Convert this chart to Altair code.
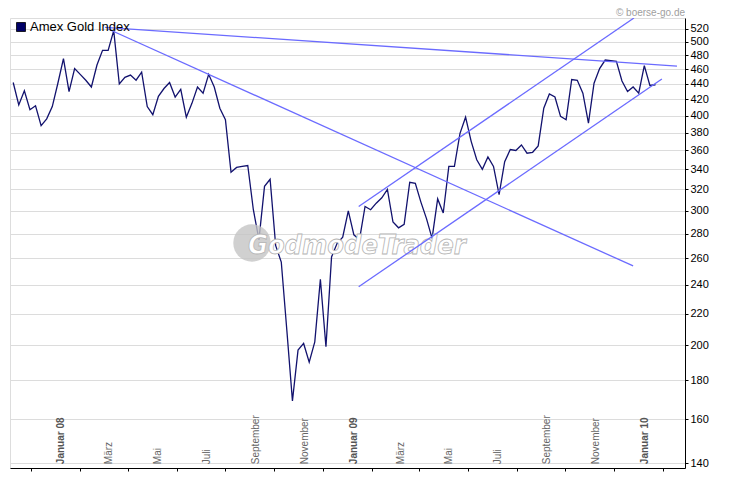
import altair as alt
import pandas as pd

# weekly closes of the Amex Gold Index
start_date = "2007-11-09"
gold = [442, 413, 431, 407, 412, 388, 396, 411, 441, 475,
        430, 461, 453, 445, 436, 466, 487, 487, 517, 440,
        449, 452, 445, 456, 411, 401, 424, 434, 442, 423,
        433, 398, 415, 436, 428, 453, 436, 409, 395, 337,
        342, 343, 344, 301, 275, 323, 330, 270, 257, 209,
        169, 197, 201, 190, 202, 244, 199, 261, 272, 277,
        300, 279, 275, 304, 301, 307, 312, 320, 290, 285,
        288, 327, 326, 308, 293, 276, 311, 298, 343, 343,
        379, 398, 370, 350, 340, 353, 343, 315, 348, 361,
        360, 366, 357, 358, 365, 409, 427, 423, 399, 395,
        446, 445, 428, 391, 441, 461, 473, 472, 471, 444,
        430, 436, 428, 465, 438, 439]

# trend lines: id, start date, start value, end date, end value
trend_ids = ["resist", "down", "chan_top", "chan_bottom"]
trend_start_dates = ["2008-03-03", "2008-03-07", "2009-01-15", "2009-01-15"]
trend_start_vals = [522, 519.5, 304, 238.5]
trend_end_dates = ["2010-02-18", "2009-12-25", "2009-12-26", "2010-01-30"]
trend_end_vals = [464.5, 254, 537, 446.6]

month_dates = ["2008-01-01", "2008-03-01", "2008-05-01", "2008-07-01", "2008-09-01",
               "2008-11-01", "2009-01-01", "2009-03-01", "2009-05-01", "2009-07-01",
               "2009-09-01", "2009-11-01", "2010-01-01"]
month_labels = ["Januar 08", "März", "Mai", "Juli", "September", "November",
                "Januar 09", "März", "Mai", "Juli", "September", "November", "Januar 10"]

y_ticks = list(range(140, 521, 20))

df = pd.DataFrame({"date": pd.date_range(start_date, periods=len(gold), freq="7D"), "value": gold})

trend_rows = []
for i, t in enumerate(trend_ids):
    trend_rows.append({"line": t, "date": pd.Timestamp(trend_start_dates[i]), "value": trend_start_vals[i]})
    trend_rows.append({"line": t, "date": pd.Timestamp(trend_end_dates[i]), "value": trend_end_vals[i]})
trend_df = pd.DataFrame(trend_rows)

labels_df = pd.DataFrame({"date": pd.to_datetime(month_dates), "label": month_labels})
labels_df["jan"] = labels_df["label"].str.startswith("Januar")

month_ticks = [alt.DateTime(year=y, month=m, date=1)
               for y in (2007, 2008, 2009, 2010) for m in range(1, 13)
               if (y, m) >= (2007, 12) and (y, m) <= (2010, 2)]

x_scale = alt.Scale(domain=[alt.DateTime(year=2007, month=11, date=5),
                            alt.DateTime(year=2010, month=2, date=28)])
y_scale = alt.Scale(type="log", domain=[138, 537], nice=False)

x_enc = alt.X("date:T", scale=x_scale, title=None,
              axis=alt.Axis(values=month_ticks, labels=False, grid=False, tickSize=3,
                            tickColor="black", domainColor="black"))
y_enc = alt.Y("value:Q", scale=y_scale, title=None,
              axis=alt.Axis(orient="right", values=y_ticks, grid=True, gridColor="#dcdcdc",
                            tickSize=3, tickColor="black", domainColor="black",
                            labelFontSize=11, labelColor="black", labelPadding=2,
                            labelFont="Liberation Sans"))

# watermark
wm_font = "DejaVu Sans Condensed, Liberation Sans Narrow, sans-serif"
wm_circle = alt.Chart().mark_circle(size=1400, color="#c4c4c4", opacity=0.8).encode(
    x=alt.value(242), y=alt.value(225))
wm_text = alt.Chart().mark_text(
    text="GodmodeTrader", font=wm_font, fontSize=27, fontStyle="italic",
    fontWeight="bold", align="left", baseline="alphabetic", color="white",
    stroke="#b4b4b4", strokeWidth=0.8
).encode(x=alt.value(238), y=alt.value(236))

base_month = alt.Chart(labels_df)
months_normal = base_month.transform_filter("!datum.jan").mark_text(
    angle=270, align="left", baseline="top", fontSize=10, font="Liberation Sans", dy=1, color="#666666"
).encode(x=alt.X("date:T", scale=x_scale), y=alt.datum(139.6), text="label:N")
months_bold = base_month.transform_filter("datum.jan").mark_text(
    angle=270, align="left", baseline="top", fontSize=10, font="Liberation Sans", dy=1,
    fontWeight="bold", color="#555555"
).encode(x=alt.X("date:T", scale=x_scale), y=alt.datum(139.6), text="label:N")

series = alt.Chart(df).mark_line(color="#12126e", strokeWidth=1.3).encode(x=x_enc, y=y_enc)

trends = alt.Chart(trend_df).mark_line(color="#6b6bff", strokeWidth=1.3, clip=True).encode(
    x=alt.X("date:T", scale=x_scale), y=alt.Y("value:Q", scale=y_scale), detail="line:N")

legend_box = alt.Chart().mark_square(size=81, color="#000066", stroke="black",
                                     strokeWidth=0.8, opacity=1).encode(
    x=alt.value(11), y=alt.value(9))
legend_text = alt.Chart().mark_text(
    text="Amex Gold Index", fontSize=13, font="Liberation Sans", align="left",
    baseline="middle", color="black").encode(x=alt.value(20), y=alt.value(9))

copyright_text = alt.Chart().mark_text(
    text="© boerse-go.de", fontSize=10, font="Liberation Sans", align="right",
    baseline="alphabetic", color="#a0a0a0").encode(x=alt.value(675), y=alt.value(-2))

chart = alt.layer(
    series, wm_circle, wm_text, months_normal, months_bold,
    trends, legend_box, legend_text, copyright_text
).properties(
    width=675, height=450,
    padding={"left": 2, "top": 10, "right": 37, "bottom": 5},
    autosize="none",
).configure_view(
    stroke="black", strokeWidth=1, fill="#efefef"
).configure(background="white")

chart.save("out.html", embed_options={"renderer": "svg", "actions": False})
